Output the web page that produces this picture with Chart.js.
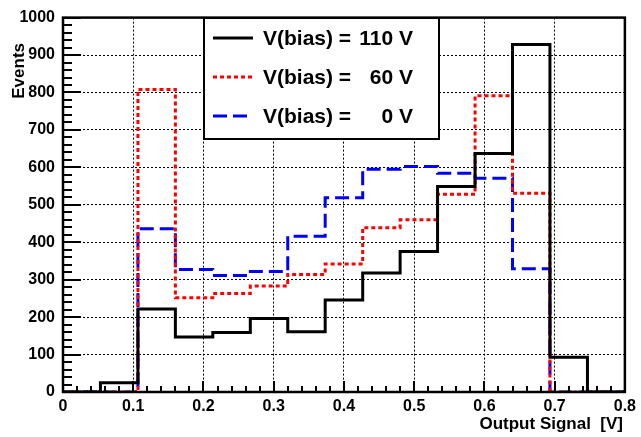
<!DOCTYPE html>
<html>
<head>
<meta charset="utf-8">
<script src="https://cdn.jsdelivr.net/npm/chart.js@4"></script>
<style>
  html, body { margin: 0; padding: 0; background: #fff; }
  #wrap { width: 641px; height: 437px; position: relative; }
</style>
</head>
<body>
<div id="wrap"><canvas id="hist"></canvas></div>
<script>
// histogram bins: 15 bins between 0 and 0.8 V
const binEdges = [0, 0.0533, 0.1067, 0.16, 0.2133, 0.2667, 0.32, 0.3733, 0.4267, 0.48, 0.5333, 0.5867, 0.64, 0.6933, 0.7467, 0.8];

const counts110 = [0, 25, 222, 147, 159, 196, 161, 246, 318, 375, 549, 637, 928, 93, 0];
const counts60  = [0, 0, 808, 252, 263, 283, 314, 342, 439, 460, 528, 791, 531, 0, 0];
const counts0   = [0, 0, 436, 327, 311, 322, 416, 519, 595, 602, 584, 571, 329, 0, 0];

const seriesLabels = ['V(bias) = 110 V', 'V(bias) = 60 V', 'V(bias) = 0 V'];
const xTitle = 'Output Signal  [V]';
const yTitle = 'Events';

const FONT = '"Liberation Sans", Arial, Helvetica, sans-serif';

// stepped points: one per bin low edge + closing point at the last edge
function histPoints(counts) {
  const pts = counts.map((c, i) => ({ x: binEdges[i], y: c }));
  pts.push({ x: binEdges[binEdges.length - 1], y: counts[counts.length - 1] });
  return pts;
}

function histDataset(label, counts, color, dash) {
  return {
    label: label,
    data: histPoints(counts),
    stepped: true,
    borderColor: color,
    borderWidth: 3,
    borderDash: dash,
    pointRadius: 0,
    fill: false,
    tension: 0
  };
}

// ROOT style: ticks inside the frame, frame, boxed legend, axis titles
const rootDecor = {
  id: 'rootDecor',
  afterDatasetsDraw(chart) {
    const ctx = chart.ctx;
    const a = chart.chartArea;
    const xs = chart.scales.x, ys = chart.scales.y;
    ctx.save();
    ctx.strokeStyle = '#000';
    ctx.lineWidth = 2;
    ctx.setLineDash([]);

    // x ticks (major 0.1, minor 0.02)
    for (let k = 0; k <= 40; k++) {
      const v = xs.min + k * (xs.max - xs.min) / 40;
      const px = Math.round(xs.getPixelForValue(v));
      const len = (k % 5 === 0) ? 11 : 6;
      ctx.beginPath();
      ctx.moveTo(px, a.bottom);
      ctx.lineTo(px, a.bottom - len);
      ctx.stroke();
    }
    // y ticks (major 100, minor 20)
    for (let k = 0; k <= 50; k++) {
      const v = ys.min + k * (ys.max - ys.min) / 50;
      const py = Math.round(ys.getPixelForValue(v));
      const len = (k % 5 === 0) ? 18 : 9;
      ctx.beginPath();
      ctx.moveTo(a.left, py);
      ctx.lineTo(a.left + len, py);
      ctx.stroke();
    }

    // frame
    ctx.lineWidth = 2.5;
    ctx.strokeRect(a.left, a.top, a.right - a.left, a.bottom - a.top);

    // legend box
    const bx = 204, by = 18, bw = 235, bh = 121;
    ctx.fillStyle = '#fff';
    ctx.fillRect(bx, by, bw, bh);
    ctx.lineWidth = 2;
    ctx.strokeRect(bx, by, bw, bh);

    const rows = [38, 77, 116];
    ctx.font = 'bold 21px ' + FONT;
    ctx.textBaseline = 'middle';
    chart.data.datasets.forEach((ds, i) => {
      const y = rows[i];
      ctx.strokeStyle = ds.borderColor;
      ctx.lineWidth = 3;
      ctx.setLineDash(ds.borderDash || []);
      ctx.beginPath();
      ctx.moveTo(213, y);
      ctx.lineTo(253, y);
      ctx.stroke();
      ctx.setLineDash([]);
      const parts = ds.label.split('= ');
      ctx.fillStyle = '#000';
      ctx.textAlign = 'left';
      ctx.fillText(parts[0] + '=', 263, y + 1);
      ctx.textAlign = 'right';
      ctx.fillText(parts[1], 413, y + 1);
    });

    // axis titles
    ctx.fillStyle = '#000';
    ctx.font = 'bold 17px ' + FONT;
    ctx.textAlign = 'right';
    ctx.textBaseline = 'alphabetic';
    ctx.fillText(xTitle, 623, 429);

    ctx.save();
    ctx.translate(24, 43);
    ctx.rotate(-Math.PI / 2);
    ctx.fillText(yTitle, 0, 0);
    ctx.restore();

    ctx.restore();
  }
};

new Chart(document.getElementById('hist'), {
  type: 'line',
  data: {
    datasets: [
      histDataset(seriesLabels[0], counts110, '#000000', []),
      histDataset(seriesLabels[1], counts60, '#ff0000', [4, 3]),
      histDataset(seriesLabels[2], counts0, '#0000ff', [14, 6])
    ]
  },
  options: {
    responsive: true,
    maintainAspectRatio: false,
    animation: false,
    layout: { padding: { top: 10, right: 12, left: 0, bottom: 0 } },
    plugins: {
      legend: { display: false },
      tooltip: { enabled: false }
    },
    scales: {
      x: {
        type: 'linear',
        min: 0,
        max: 0.8,
        afterFit: (s) => { s.height = 45; },
        ticks: {
          stepSize: 0.1,
          autoSkip: false,
          maxRotation: 0,
          padding: 5,
          color: '#000',
          font: { family: FONT, size: 16, weight: 'bold' },
          callback: (v) => String(+v.toFixed(1))
        },
        grid: { color: '#000', lineWidth: 1, drawTicks: false },
        border: { display: false, dash: [2, 2] }
      },
      y: {
        min: 0,
        max: 1000,
        afterFit: (s) => { s.width = 63; },
        ticks: {
          stepSize: 100,
          padding: 8,
          color: '#000',
          font: { family: FONT, size: 16, weight: 'bold' },
          callback: (v) => String(v)
        },
        grid: { color: '#000', lineWidth: 1, drawTicks: false },
        border: { display: false, dash: [2, 2] }
      }
    }
  },
  plugins: [rootDecor]
});
</script>
</body>
</html>
